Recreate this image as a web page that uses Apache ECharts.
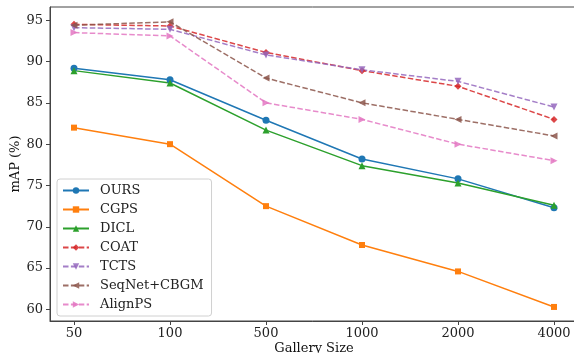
<!DOCTYPE html>
<html>
<head>
<meta charset="utf-8">
<script src="https://cdn.jsdelivr.net/npm/echarts@6/dist/echarts.min.js"></script>
<style>
  html, body { margin: 0; padding: 0; background: #fff; }
  #chart { width: 574px; height: 353px; }
</style>
</head>
<body>
<div id="chart"></div>
<script>
// gallery sizes (x categories)
const gallerySizes = ['50', '100', '500', '1000', '2000', '4000'];
const yTicks = [60, 65, 70, 75, 80, 85, 90, 95];

// mAP (%) for each method
const ours   = [89.2, 87.8, 82.9, 78.2, 75.8, 72.3];
const cgps   = [82.0, 80.0, 72.5, 67.8, 64.6, 60.3];
const dicl   = [88.9, 87.4, 81.7, 77.4, 75.3, 72.6];
const coat   = [94.5, 94.3, 91.1, 88.9, 87.0, 83.0];
const tcts   = [94.1, 93.9, 90.8, 89.0, 87.6, 84.5];
const seqnet = [94.4, 94.8, 88.0, 85.0, 83.0, 81.0];
const alignps = [93.5, 93.1, 85.0, 83.0, 80.0, 78.0];

const FONT = 'DejaVu Serif';
const xIdx = gallerySizes.map((_, i) => i);

function mk(name, values, color, symbol, rotate, dashed) {
  return {
    name: name,
    type: 'line',
    data: values.map((v, i) => [i, v]),
    symbol: symbol,
    symbolSize: symbol === 'rect' ? 6 : 7,
    symbolRotate: rotate,
    itemStyle: { color: color, opacity: dashed ? 0.85 : 1 },
    lineStyle: { color: color, width: 1.5, type: dashed ? [5.5, 2.4] : 'solid', opacity: dashed ? 0.85 : 1 },
    animation: false
  };
}

const myChart = echarts.init(document.getElementById('chart'));

let option = {
  backgroundColor: '#fff',
  textStyle: { fontFamily: FONT },
  grid: {
    left: 50, top: 7, width: 528, height: 314,
    containLabel: false,
    outerBoundsMode: 'none',
    show: true, borderColor: '#444', borderWidth: 1, backgroundColor: 'transparent'
  },
  xAxis: {
    type: 'value',
    min: -0.25,
    max: 5.25,
    name: 'Gallery Size',
    nameLocation: 'middle',
    nameGap: 21,
    nameMoveOverlap: false,
    nameTextStyle: { fontFamily: FONT, fontSize: 13, color: '#111' },
    axisLine: { show: true, onZero: false, lineStyle: { color: '#444', width: 1 } },
    axisTick: { show: true, length: 4, inside: false, customValues: xIdx, lineStyle: { color: '#444' } },
    axisLabel: {
      customValues: xIdx,
      margin: 6,
      fontFamily: FONT, fontSize: 13, color: '#222',
      formatter: v => gallerySizes[Math.round(v)]
    },
    splitLine: { show: false }
  },
  yAxis: {
    type: 'value',
    min: 58.6,
    max: 96.6,
    name: 'mAP (%)',
    nameLocation: 'middle',
    nameGap: 28,
    nameMoveOverlap: false,
    nameTextStyle: { fontFamily: FONT, fontSize: 13, color: '#111' },
    axisLine: { show: true, onZero: false, lineStyle: { color: '#444', width: 1 } },
    axisTick: { show: true, length: 4, customValues: yTicks, lineStyle: { color: '#444' } },
    axisLabel: {
      customValues: yTicks,
      margin: 7,
      fontFamily: FONT, fontSize: 13, color: '#222'
    },
    splitLine: { show: false }
  },
  legend: {
    orient: 'vertical',
    left: 57,
    top: 179,
    padding: [4, 8, 4, 5],
    itemWidth: 26,
    itemHeight: 8,
    itemGap: 4,
    backgroundColor: 'rgba(255,255,255,0.85)',
    borderColor: '#d0d0d0',
    borderWidth: 1,
    borderRadius: 3,
    textStyle: { fontFamily: FONT, fontSize: 13, lineHeight: 15, color: '#222', padding: [0, 0, 0, 6] }
  },
  series: [
    mk('OURS', ours, '#1f77b4', 'circle', 0, false),
    mk('CGPS', cgps, '#ff7f0e', 'rect', 0, false),
    mk('DICL', dicl, '#2ca02c', 'triangle', 0, false),
    mk('COAT', coat, '#d62728', 'diamond', 0, true),
    mk('TCTS', tcts, '#9467bd', 'triangle', 180, true),
    mk('SeqNet+CBGM', seqnet, '#8c564b', 'triangle', 90, true),
    mk('AlignPS', alignps, '#e377c2', 'triangle', -90, true)
  ]
};

option && myChart.setOption(option);
</script>
</body>
</html>
